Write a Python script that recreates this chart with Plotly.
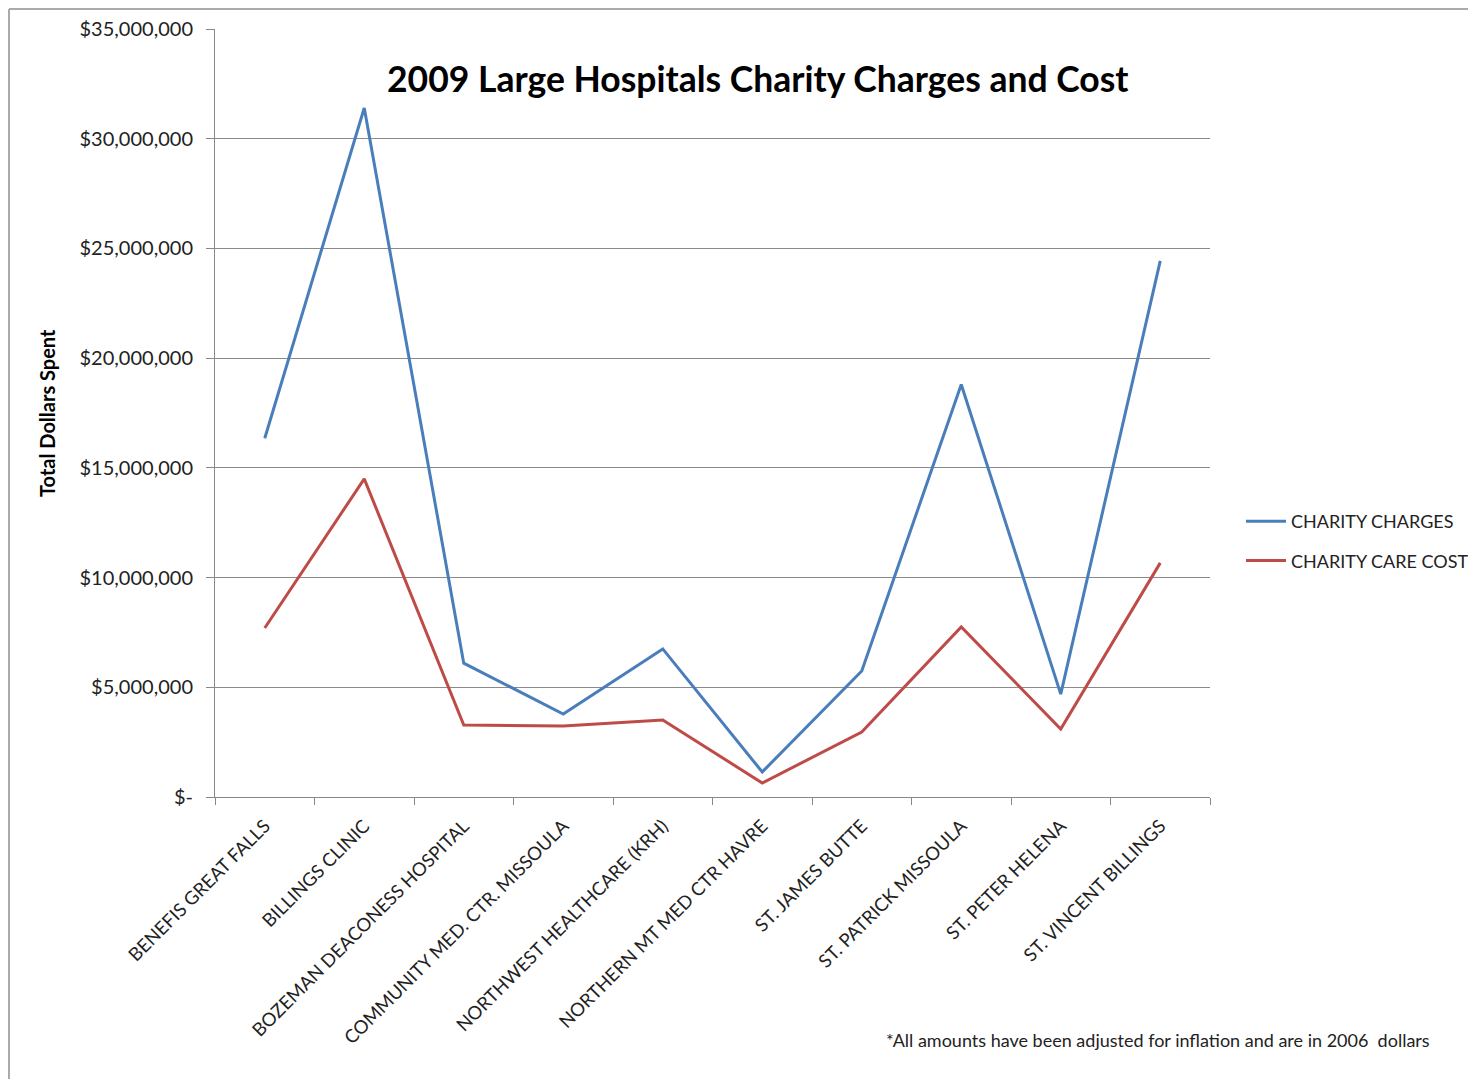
import plotly.graph_objects as go

hospitals = ["BENEFIS GREAT FALLS", "BILLINGS CLINIC", "BOZEMAN DEACONESS HOSPITAL",
             "COMMUNITY MED. CTR. MISSOULA", "NORTHWEST HEALTHCARE (KRH)",
             "NORTHERN MT MED CTR HAVRE", "ST. JAMES BUTTE", "ST. PATRICK MISSOULA",
             "ST. PETER HELENA", "ST. VINCENT BILLINGS"]
charity_charges = [16350000, 31400000, 6100000, 3780000, 6750000, 1140000,
                   5740000, 18800000, 4690000, 24430000]
charity_care_cost = [7700000, 14500000, 3280000, 3240000, 3510000, 640000,
                     2960000, 7750000, 3100000, 10670000]
y_tickvals = [0, 5000000, 10000000, 15000000, 20000000, 25000000, 30000000, 35000000]
y_ticktext = ["$-", "$5,000,000", "$10,000,000", "$15,000,000", "$20,000,000",
              "$25,000,000", "$30,000,000", "$35,000,000"]

FONT = "Lato"
OFF = 8  # page body margin
W, H = 1476 - OFF, 1079 - OFF
PL, PR, PT, PB = 215, 1210, 29, 797  # plot area in screen coords
L, T = PL - OFF, PT - OFF
R, B = W - (PR - OFF), H - (PB - OFF)
pw, ph = PR - PL, PB - PT

def px(x):
    return (x - PL) / pw

def py(y):
    return (PB - y) / ph

fig = go.Figure()
fig.add_trace(go.Scatter(x=hospitals, y=charity_charges, mode="lines", name="CHARITY CHARGES",
                         legendgroup="a", line=dict(color="#4A7EBB", width=3)))
fig.add_trace(go.Scatter(x=hospitals, y=charity_care_cost, mode="lines", name="CHARITY CARE COST",
                         legendgroup="b", line=dict(color="#BE4B48", width=3)))

fig.update_layout(
    width=W, height=H,
    margin=dict(l=L, r=R, t=T, b=B, autoexpand=False),
    paper_bgcolor="white", plot_bgcolor="white",
    font=dict(family=FONT, color="#222"),
    showlegend=True,
    legend=dict(x=px(1241), y=py(503), xanchor="left", yanchor="top",
                font=dict(family=FONT, size=18, color="#222"),
                bgcolor="rgba(0,0,0,0)", tracegroupgap=13, itemwidth=40),
    xaxis=dict(type="category", showgrid=False, showline=True, linecolor="#888", linewidth=1,
               ticks="outside", tickson="boundaries", ticklen=7, tickcolor="#888",
               tickangle=-45, tickfont=dict(family=FONT, size=18.5, color="#222"),
               ticklabelstandoff=10, automargin=False,
               range=[-0.5, len(hospitals) - 0.5]),
    yaxis=dict(range=[0, 35000000], tickvals=y_tickvals, ticktext=y_ticktext,
               showgrid=True, gridcolor="#8a8a8a", gridwidth=1,
               showline=True, linecolor="#888", linewidth=1,
               ticks="outside", ticklen=8, tickcolor="#888", ticklabelstandoff=9,
               automargin=False,
               tickfont=dict(family=FONT, size=20, color="#222"), zeroline=False),
)

fig.add_annotation(text="<b>2009 Large Hospitals Charity Charges and Cost</b>",
                   x=px(758), y=py(78), xref="paper", yref="paper", showarrow=False,
                   xanchor="center", yanchor="middle",
                   font=dict(family=FONT, size=35.5, color="#000"))
fig.add_annotation(text="<b>Total Dollars Spent</b>", textangle=-90,
                   x=px(47), y=py(413), xref="paper", yref="paper", showarrow=False,
                   xanchor="center", yanchor="middle",
                   font=dict(family=FONT, size=20, color="#000"))
fig.add_annotation(text="*All amounts have been adjusted for inflation and are in 2006  dollars",
                   x=px(1432), y=py(1040), xref="paper", yref="paper", showarrow=False,
                   xanchor="right", yanchor="middle", font=dict(family=FONT, size=18, color="#222"))

# outer frame
fig.add_shape(type="line", xref="paper", yref="paper", x0=px(9), x1=px(9), y0=py(9), y1=py(1079),
              line=dict(color="#aaa", width=2))
fig.add_shape(type="line", xref="paper", yref="paper", x0=px(9), x1=px(1476), y0=py(9), y1=py(9),
              line=dict(color="#aaa", width=2))

fig.write_html("out.html")
